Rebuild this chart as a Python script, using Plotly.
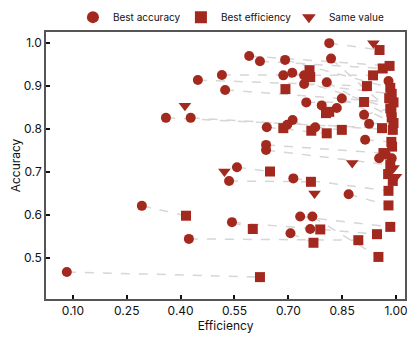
import plotly.graph_objects as go

# best-accuracy configs (circles)
acc_pt_eff = [0.083, 0.292, 0.543, 0.423, 0.359, 0.428, 0.448, 0.515, 0.524, 0.591,
              0.621, 0.691, 0.686, 0.711, 0.744, 0.744, 0.807, 0.814, 0.819, 0.750,
              0.793, 0.849, 0.835, 0.911, 0.925, 0.712, 0.697, 0.640, 0.775, 0.914,
              0.638, 0.638, 0.557, 0.535, 0.714, 0.953, 0.988, 0.868, 0.733, 0.767,
              0.761, 0.706, 0.979, 0.972]
acc_pt_acc = [0.467, 0.621, 0.583, 0.544, 0.826, 0.826, 0.914, 0.926, 0.891, 0.970,
              0.958, 0.961, 0.925, 0.931, 0.925, 0.905, 0.909, 1.000, 0.964, 0.862,
              0.855, 0.871, 0.849, 0.833, 0.812, 0.821, 0.810, 0.804, 0.804, 0.775,
              0.763, 0.751, 0.711, 0.679, 0.685, 0.732, 0.732, 0.648, 0.596, 0.596,
              0.567, 0.557, 0.912, 0.740]

# best-efficiency configs (squares)
eff_pt_eff = [0.621, 0.415, 0.601, 0.770, 0.789, 0.895, 0.947, 0.984, 0.951, 0.979,
              0.979, 0.991, 0.649, 0.763, 0.987, 0.965, 0.984, 0.961, 0.991, 0.988,
              0.807, 0.849, 0.764, 0.686, 0.805, 0.911, 0.919, 0.936, 0.963, 0.982,
              0.954, 0.759, 0.761, 0.692, 0.984, 0.988, 0.993, 0.984, 0.814, 0.993,
              0.981, 0.989, 0.978, 0.987]
eff_pt_acc = [0.455, 0.598, 0.567, 0.535, 0.566, 0.541, 0.555, 0.572, 0.502, 0.622,
              0.656, 0.679, 0.701, 0.677, 0.770, 0.744, 0.716, 0.802, 0.798, 0.827,
              0.790, 0.798, 0.796, 0.802, 0.837, 0.863, 0.900, 0.925, 0.941, 0.947,
              0.984, 0.937, 0.921, 0.893, 0.896, 0.882, 0.862, 0.848, 0.840, 0.814,
              0.872, 0.759, 0.695, 0.840]

# which circle is joined to which square
links = [(0, 0), (1, 1), (2, 2), (3, 5), (41, 3), (40, 4), (38, 7), (39, 8),
         (2, 6), (37, 9), (34, 10), (33, 13), (32, 12), (4, 17), (5, 18),
         (6, 26), (7, 27), (8, 36), (9, 29), (10, 28), (11, 34), (12, 37),
         (13, 32), (14, 31), (15, 35), (16, 19), (17, 30), (18, 43), (19, 25),
         (20, 24), (21, 39), (22, 38), (23, 37), (24, 39), (25, 22), (26, 23),
         (27, 20), (28, 21), (29, 14), (30, 15), (31, 16), (42, 40), (43, 41)]

# same value for both (triangles)
same_eff = [0.937, 0.412, 0.522, 0.773, 0.878, 0.993, 1.000]
same_acc = [1.000, 0.854, 0.701, 0.650, 0.721, 0.709, 0.689]

RED = "#a3291f"

line_x, line_y = [], []
for a, b in links:
    line_x += [acc_pt_eff[a], eff_pt_eff[b], None]
    line_y += [acc_pt_acc[a], eff_pt_acc[b], None]

fig = go.Figure()
fig.add_trace(go.Scatter(
    x=line_x, y=line_y, mode="lines", showlegend=False, hoverinfo="skip",
    line=dict(color="#d6d6d6", width=1.5, dash="dash"),
))
fig.add_trace(go.Scatter(
    x=acc_pt_eff, y=acc_pt_acc, mode="markers", name="Best accuracy",
    marker=dict(symbol="circle", size=10, color=RED),
))
fig.add_trace(go.Scatter(
    x=eff_pt_eff, y=eff_pt_acc, mode="markers", name="Best efficiency",
    marker=dict(symbol="square", size=10, color=RED),
))
fig.add_trace(go.Scatter(
    x=same_eff, y=same_acc, mode="markers", name="Same value",
    marker=dict(symbol="triangle-down", size=11, color=RED),
))

axis_common = dict(
    showgrid=False, zeroline=False, showline=True, mirror=True,
    linecolor="#555555", linewidth=1.5, automargin=False,
    ticks="inside", ticklen=4, tickwidth=2, tickcolor="#111111",
    tickfont=dict(size=12, color="#111111"),
)

# page body adds an 8px offset, so the figure is a bit smaller than the window
fig.update_layout(
    width=407, height=330, autosize=False,
    template="none",
    font=dict(family="Inter, Lato, sans-serif", color="#111111"),
    margin=dict(l=38, r=10, t=24, b=39, autoexpand=False),
    plot_bgcolor="white", paper_bgcolor="white",
    legend=dict(orientation="h", x=0.075, xanchor="left", y=1.11, yanchor="top",
                font=dict(size=10), itemsizing="constant",
                entrywidth=63, entrywidthmode="pixels", bgcolor="rgba(0,0,0,0)"),
    xaxis=dict(title=dict(text="Efficiency", font=dict(size=12), standoff=1),
               range=[0.025, 1.025], tickvals=[0.10, 0.25, 0.40, 0.55, 0.70, 0.85, 1.00],
               tickformat=".2f", **axis_common),
    yaxis=dict(title=dict(text="Accuracy", font=dict(size=12), standoff=6),
               range=[0.404, 1.026], tickvals=[0.5, 0.6, 0.7, 0.8, 0.9, 1.0],
               tickformat=".1f", **axis_common),
)

fig.write_html("out.html")
